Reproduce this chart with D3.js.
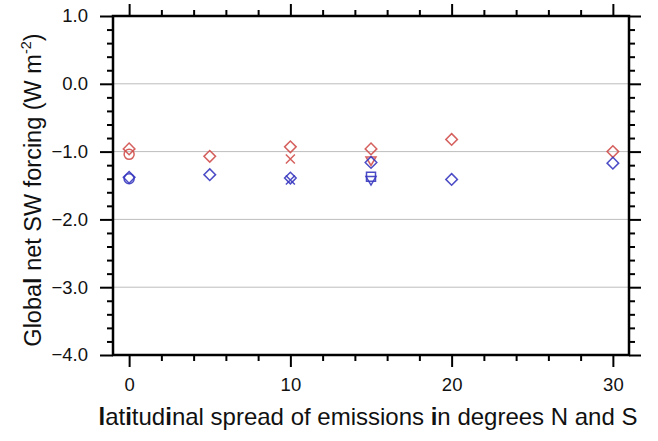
<!DOCTYPE html>
<html>
<head>
<meta charset="utf-8">
<script src="https://cdn.jsdelivr.net/npm/d3@7"></script>
<style>
  body { margin: 0; background: #fff; }
  svg { font-family: "Liberation Sans", Arial, Helvetica, sans-serif; }
</style>
</head>
<body>
<div id="chart"></div>
<script>
// latitudinal spread (deg) and global net SW forcing (W m-2)
const xTicks = [0, 10, 20, 30];
const yTicks = [1, 0, -1, -2, -3, -4];

const redDiamondX = [0, 5, 10, 15, 20, 30];
const redDiamondY = [-0.96, -1.07, -0.93, -0.96, -0.82, -1.00];
const blueDiamondX = [0, 5, 10, 15, 20, 30];
const blueDiamondY = [-1.38, -1.34, -1.39, -1.16, -1.41, -1.17];

const redCircleX = [0];
const redCircleY = [-1.04];
const blueCircleX = [0];
const blueCircleY = [-1.40];

const redCrossX = [10];
const redCrossY = [-1.11];
const blueCrossX = [10];
const blueCrossY = [-1.42];

const redTriX = [15];
const redTriY = [-1.13];
const blueSquareX = [15];
const blueSquareY = [-1.37];
const blueTriX = [15];
const blueTriY = [-1.42];

const red = "#d0504e", blue = "#3838c0";

const series = [
    {x: redDiamondX, y: redDiamondY, color: red, sym: "diamond"},
    {x: redCircleX, y: redCircleY, color: red, sym: "circle"},
    {x: redCrossX, y: redCrossY, color: red, sym: "cross"},
    {x: redTriX, y: redTriY, color: red, sym: "tri"},
    {x: blueDiamondX, y: blueDiamondY, color: blue, sym: "diamond"},
    {x: blueCircleX, y: blueCircleY, color: blue, sym: "circle"},
    {x: blueCrossX, y: blueCrossY, color: blue, sym: "cross"},
    {x: blueSquareX, y: blueSquareY, color: blue, sym: "square"},
    {x: blueTriX, y: blueTriY, color: blue, sym: "tri"}
];

const W = 658, H = 441;
const L = 113, R = 629, T = 16, B = 355;

const x = d3.scaleLinear().domain([-1, 31]).range([L, R]);
const y = d3.scaleLinear().domain([-4, 1]).range([B, T]);

const svg = d3.select("#chart").append("svg")
    .attr("width", W).attr("height", H);

// grid lines
svg.append("g").selectAll("line")
    .data([0, -1, -2, -3])
    .enter().append("line")
    .attr("x1", L).attr("x2", R)
    .attr("y1", d => y(d)).attr("y2", d => y(d))
    .attr("stroke", "#bdbdbd").attr("stroke-width", 1);

// markers
const symPath = {
    diamond: "M0,-5.8L5.8,0L0,5.8L-5.8,0Z",
    circle: "M-5,0A5,5 0 1,0 5,0A5,5 0 1,0 -5,0Z",
    cross: "M-4.5,-4.5L4.5,4.5M-4.5,4.5L4.5,-4.5",
    tri: "M-5,-3.5L5,-3.5L0,5Z",
    square: "M-4.5,-4.5L4.5,-4.5L4.5,4.5L-4.5,4.5Z"
};

series.forEach(s => {
    svg.append("g").selectAll("path")
        .data(s.x.map((v, i) => [v, s.y[i]]))
        .enter().append("path")
        .attr("transform", d => `translate(${x(d[0])},${y(d[1])})`)
        .attr("d", symPath[s.sym])
        .attr("fill", "none")
        .attr("stroke", s.color)
        .attr("stroke-width", 1.5)
        .attr("stroke-opacity", 0.9);
});

// axes, ticks pointing outward
const minorX = d3.range(2, 31, 2).filter(v => v % 10 != 0);
const minorY = d3.range(-40, 11, 2).map(v => v / 10).filter(v => Math.abs(v - Math.round(v)) > 0.01);

const gB = svg.append("g").attr("transform", `translate(0,${B})`);
gB.call(d3.axisBottom(x).tickValues(minorX).tickFormat("").tickSize(6));
gB.append("g").call(d3.axisBottom(x).tickValues(xTicks).tickSize(12).tickFormat(d3.format("d")).tickPadding(11));
const gT = svg.append("g").attr("transform", `translate(0,${T})`);
gT.call(d3.axisTop(x).tickValues(minorX).tickFormat("").tickSize(6));
gT.append("g").call(d3.axisTop(x).tickValues(xTicks).tickSize(12).tickFormat(""));
const gL = svg.append("g").attr("transform", `translate(${L},0)`);
gL.call(d3.axisLeft(y).tickValues(minorY).tickFormat("").tickSize(6));
gL.append("g").call(d3.axisLeft(y).tickValues(yTicks).tickSize(13).tickFormat(d3.format(".1f")).tickPadding(12));
const gR = svg.append("g").attr("transform", `translate(${R},0)`);
gR.call(d3.axisRight(y).tickValues(minorY).tickFormat("").tickSize(6));
gR.append("g").call(d3.axisRight(y).tickValues(yTicks).tickSize(12).tickFormat(""));

svg.selectAll(".domain").remove();
svg.selectAll(".tick line").attr("stroke", "#000").attr("stroke-width", 2);
svg.selectAll(".tick text").attr("fill", "#111").attr("font-size", 18.5)
    .attr("font-family", "'Liberation Sans', Arial, sans-serif");

// frame
svg.append("rect")
    .attr("x", L).attr("y", T).attr("width", R - L).attr("height", B - T)
    .attr("fill", "none").attr("stroke", "#000").attr("stroke-width", 2.5);

// axis titles
const xt = svg.append("text")
    .attr("x", 368).attr("y", 425)
    .attr("text-anchor", "middle").attr("font-size", 24).attr("fill", "#111");
[["l", 1], ["at", 0], ["i", 1], ["tud", 0], ["i", 1], ["nal spread of emissions ", 0], ["i", 1], ["n degrees N and S", 0]]
    .forEach(p => xt.append("tspan").text(p[0]).attr("font-weight", p[1] ? "bold" : null));

const yt = svg.append("text")
    .attr("transform", `translate(41,190) rotate(-90)`)
    .attr("text-anchor", "middle").attr("font-size", 23.5).attr("fill", "#111");
yt.append("tspan").text("Globa");
yt.append("tspan").text("l").attr("font-weight", "bold");
yt.append("tspan").text(" net SW forcing (W m");
yt.append("tspan").text("-2").attr("font-size", 14.5).attr("dy", -10);
yt.append("tspan").text(")").attr("dy", 10);
</script>
</body>
</html>
